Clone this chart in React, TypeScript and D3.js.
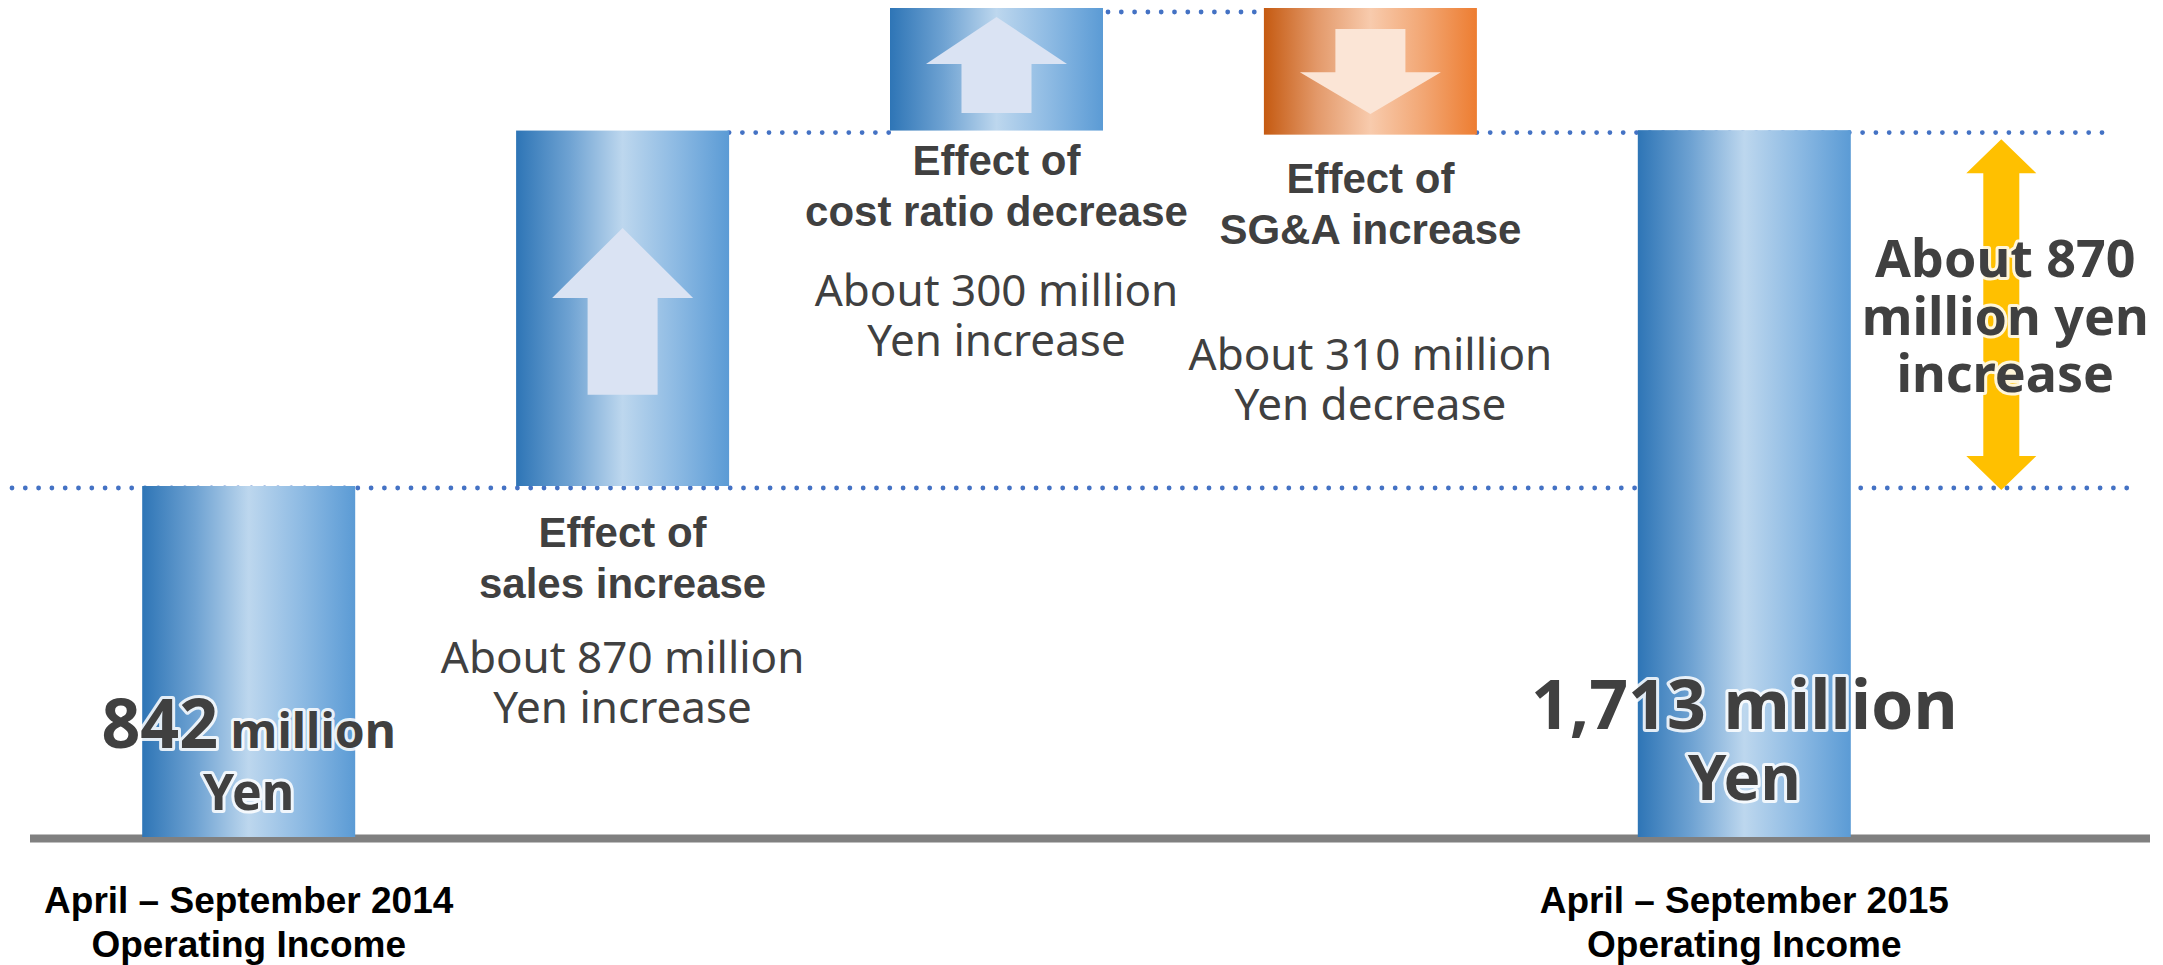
import React from "react";
import * as d3 from "d3";

const W = 2163;
const H = 965;

// ---- data ----
const stepKeys = ["start", "sales", "costRatio", "sga", "end"];
const stepKinds = ["total", "delta", "delta", "delta", "total"];
const stepValues = [842, 870, 300, -310, 1713];

const periodLabels = [
  ["April – September 2014", "Operating Income"],
  null,
  null,
  null,
  ["April – September 2015", "Operating Income"],
];
const effectTitles = [
  null,
  ["Effect of", "sales increase"],
  ["Effect of", "cost ratio decrease"],
  ["Effect of", "SG&A increase"],
  null,
];
const effectAmounts = [
  null,
  ["About 870 million", "Yen increase"],
  ["About 300 million", "Yen increase"],
  ["About 310 million", "Yen decrease"],
  null,
];
const totalNumbers = ["842", "1,713"];
const totalUnits = ["million", "Yen"];
const changeLines = ["About 870", "million yen", "increase"];

// ---- styles ----
const DARK = "#404040";
const DOT = "#4472C4";
const BAR_W = 213;
const BASE_Y = 837;
const FONT_ARIAL = "'Liberation Sans', Arial, sans-serif";
const FONT_MEIRYO = "'Noto Sans', 'Open Sans', sans-serif";

// arrow glyph geometry inside each delta bar (fractions of bar height)
const arrowStyle: Record<string, { tip: number; end: number; head: number }> = {
  sales: { tip: 0.274, end: 0.743, head: 0.197 },
  costRatio: { tip: 0.073, end: 0.856, head: 0.383 },
  sga: { tip: 0.837, end: 0.166, head: 0.33 },
};
// label offsets below each delta bar (px)
const labelStyle: Record<string, { title: number; amount: number }> = {
  sales: { title: 61, amount: 187 },
  costRatio: { title: 44, amount: 175 },
  sga: { title: 58, amount: 235 },
};

function arrowPoints(cx: number, yTip: number, yEnd: number, headW: number, shaftW: number, headH: number) {
  const s = yEnd > yTip ? 1 : -1;
  const hw = headW / 2;
  const sw = shaftW / 2;
  const ys = yTip + s * headH;
  return [
    [cx, yTip],
    [cx + hw, ys],
    [cx + sw, ys],
    [cx + sw, yEnd],
    [cx - sw, yEnd],
    [cx - sw, ys],
    [cx - hw, ys],
  ]
    .map((p) => p.join(","))
    .join(" ");
}

function doubleArrowPoints(cx: number, yTop: number, yBot: number, headW: number, shaftW: number, headH: number) {
  const hw = headW / 2;
  const sw = shaftW / 2;
  return [
    [cx, yTop],
    [cx + hw, yTop + headH],
    [cx + sw, yTop + headH],
    [cx + sw, yBot - headH],
    [cx + hw, yBot - headH],
    [cx, yBot],
    [cx - hw, yBot - headH],
    [cx - sw, yBot - headH],
    [cx - sw, yTop + headH],
    [cx - hw, yTop + headH],
  ]
    .map((p) => p.join(","))
    .join(" ");
}

export default function App() {
  // waterfall computation
  let running = 0;
  const bars = stepValues.map((v, i) => {
    if (stepKinds[i] === "total") {
      running = v;
      return { key: stepKeys[i], kind: "total", from: 0, to: v, v };
    }
    const from = running;
    running += v;
    return { key: stepKeys[i], kind: "delta", from, to: running, v };
  });

  const maxV = d3.max(bars, (b) => Math.max(b.from, b.to)) as number;
  const y = d3.scaleLinear().domain([0, maxV]).range([830, 8]);
  const x = d3.scalePoint<string>().domain(stepKeys).range([248.7, 1744.3]);

  const left = (k: string) => (x(k) as number) - BAR_W / 2;
  const right = (k: string) => (x(k) as number) + BAR_W / 2;

  const startLevel = bars[0].to;
  const salesLevel = bars[1].to;
  const peakLevel = bars[2].to;
  const endBar = bars[4];

  const dotProps = {
    stroke: DOT,
    strokeWidth: 4.8,
    strokeLinecap: "round" as const,
    strokeDasharray: "0 13.3",
    fill: "none",
  };

  const glow = {
    stroke: "#ffffff",
    strokeWidth: 6,
    strokeLinejoin: "round" as const,
    strokeOpacity: 0.85,
    paintOrder: "stroke fill",
  };

  const changeX = (x("end") as number) + 257;
  const yellowTop = y(endBar.to) + 9;
  const yellowBot = y(startLevel) + 4;

  return (
    <svg
      width={W}
      height={H}
      viewBox={`0 0 ${W} ${H}`}
      style={{ position: "absolute", left: 0, top: 0, background: "#fff" }}
    >
      <defs>
        <linearGradient id="blueGrad" x1="0" x2="1" y1="0" y2="0">
          <stop offset="0" stopColor="#2E75B6" />
          <stop offset="0.25" stopColor="#6EA2D2" />
          <stop offset="0.5" stopColor="#BDD7EE" />
          <stop offset="0.75" stopColor="#8DBAE3" />
          <stop offset="1" stopColor="#5B9BD5" />
        </linearGradient>
        <linearGradient id="orangeGrad" x1="0" x2="1" y1="0" y2="0">
          <stop offset="0" stopColor="#C55A11" />
          <stop offset="0.25" stopColor="#E3996A" />
          <stop offset="0.5" stopColor="#F8CBAD" />
          <stop offset="0.75" stopColor="#F2A673" />
          <stop offset="1" stopColor="#ED7D31" />
        </linearGradient>
      </defs>

      {/* dotted reference lines */}
      <line x1={12} x2={2135} y1={y(startLevel) + 2} y2={y(startLevel) + 2} {...dotProps} />
      <line x1={right("sales")} x2={left("costRatio")} y1={y(salesLevel) + 2} y2={y(salesLevel) + 2} {...dotProps} />
      <line x1={right("sga")} x2={2103} y1={y(salesLevel) + 2} y2={y(salesLevel) + 2} {...dotProps} />
      <line x1={right("costRatio") + 5} x2={left("sga") - 5} y1={y(peakLevel) + 4} y2={y(peakLevel) + 4} {...dotProps} />

      {/* baseline */}
      <line x1={30} x2={2150} y1={838.5} y2={838.5} stroke="#808080" strokeWidth={8} />

      {/* bars */}
      {bars.map((b) => {
        const top = y(Math.max(b.from, b.to));
        const bottom = b.kind === "total" ? BASE_Y : y(Math.min(b.from, b.to));
        const fill = b.v < 0 ? "url(#orangeGrad)" : "url(#blueGrad)";
        return <rect key={b.key} x={left(b.key)} y={top} width={BAR_W} height={bottom - top} fill={fill} />;
      })}

      {/* arrows inside delta bars */}
      {bars
        .filter((b) => b.kind === "delta")
        .map((b) => {
          const top = y(Math.max(b.from, b.to));
          const bottom = y(Math.min(b.from, b.to));
          const h = bottom - top;
          const st = arrowStyle[b.key];
          const cx = x(b.key) as number;
          return (
            <polygon
              key={"arr-" + b.key}
              points={arrowPoints(cx, top + st.tip * h, top + st.end * h, 141, 70, st.head * h)}
              fill={b.v < 0 ? "#FBE5D6" : "#DAE3F3"}
            />
          );
        })}

      {/* effect labels */}
      {bars.map((b, i) => {
        if (!effectTitles[i]) return null;
        const bottom = y(Math.min(b.from, b.to));
        const st = labelStyle[b.key];
        const cx = x(b.key) as number;
        return (
          <g key={"lbl-" + b.key} textAnchor="middle">
            {effectTitles[i]!.map((t, j) => (
              <text
                key={"t" + j}
                x={cx}
                y={bottom + st.title + j * 51}
                fontFamily={FONT_ARIAL}
                fontWeight="bold"
                fontSize={42}
                fill={DARK}
              >
                {t}
              </text>
            ))}
            {effectAmounts[i]!.map((t, j) => (
              <text
                key={"a" + j}
                x={cx}
                y={bottom + st.amount + j * 50}
                fontFamily={FONT_MEIRYO}
                fontSize={44}
                fill={DARK}
              >
                {t}
              </text>
            ))}
          </g>
        );
      })}

      {/* total labels */}
      <g textAnchor="middle" fontFamily={FONT_MEIRYO} fontWeight="bold" fill={DARK}>
        <text x={x("start")} y={748} {...glow}>
          <tspan fontSize={68}>{totalNumbers[0]}</tspan>
          <tspan fontSize={48}>{" " + totalUnits[0]}</tspan>
        </text>
        <text x={x("start")} y={810} fontSize={50} {...glow}>
          {totalUnits[1]}
        </text>
        <text x={x("end")} y={729} fontSize={68} {...glow}>
          {totalNumbers[1] + " " + totalUnits[0]}
        </text>
        <text x={x("end")} y={800} fontSize={62} {...glow}>
          {totalUnits[1]}
        </text>
      </g>

      {/* yellow change arrow */}
      <polygon points={doubleArrowPoints(changeX, yellowTop, yellowBot, 70, 36, 34)} fill="#FFC000" />
      <g textAnchor="middle" fontFamily={FONT_MEIRYO} fontWeight="bold" fontSize={52} fill={DARK}>
        {changeLines.map((t, j) => (
          <text key={j} x={changeX + 4} y={277 + j * 57.5} {...glow}>
            {t}
          </text>
        ))}
      </g>

      {/* period labels */}
      {periodLabels.map((lines, i) =>
        lines ? (
          <g key={"p" + i} textAnchor="middle" fontFamily={FONT_ARIAL} fontWeight="bold" fontSize={37} fill="#000">
            {lines.map((t, j) => (
              <text key={j} x={x(stepKeys[i])} y={913 + j * 44}>
                {t}
              </text>
            ))}
          </g>
        ) : null
      )}
    </svg>
  );
}
